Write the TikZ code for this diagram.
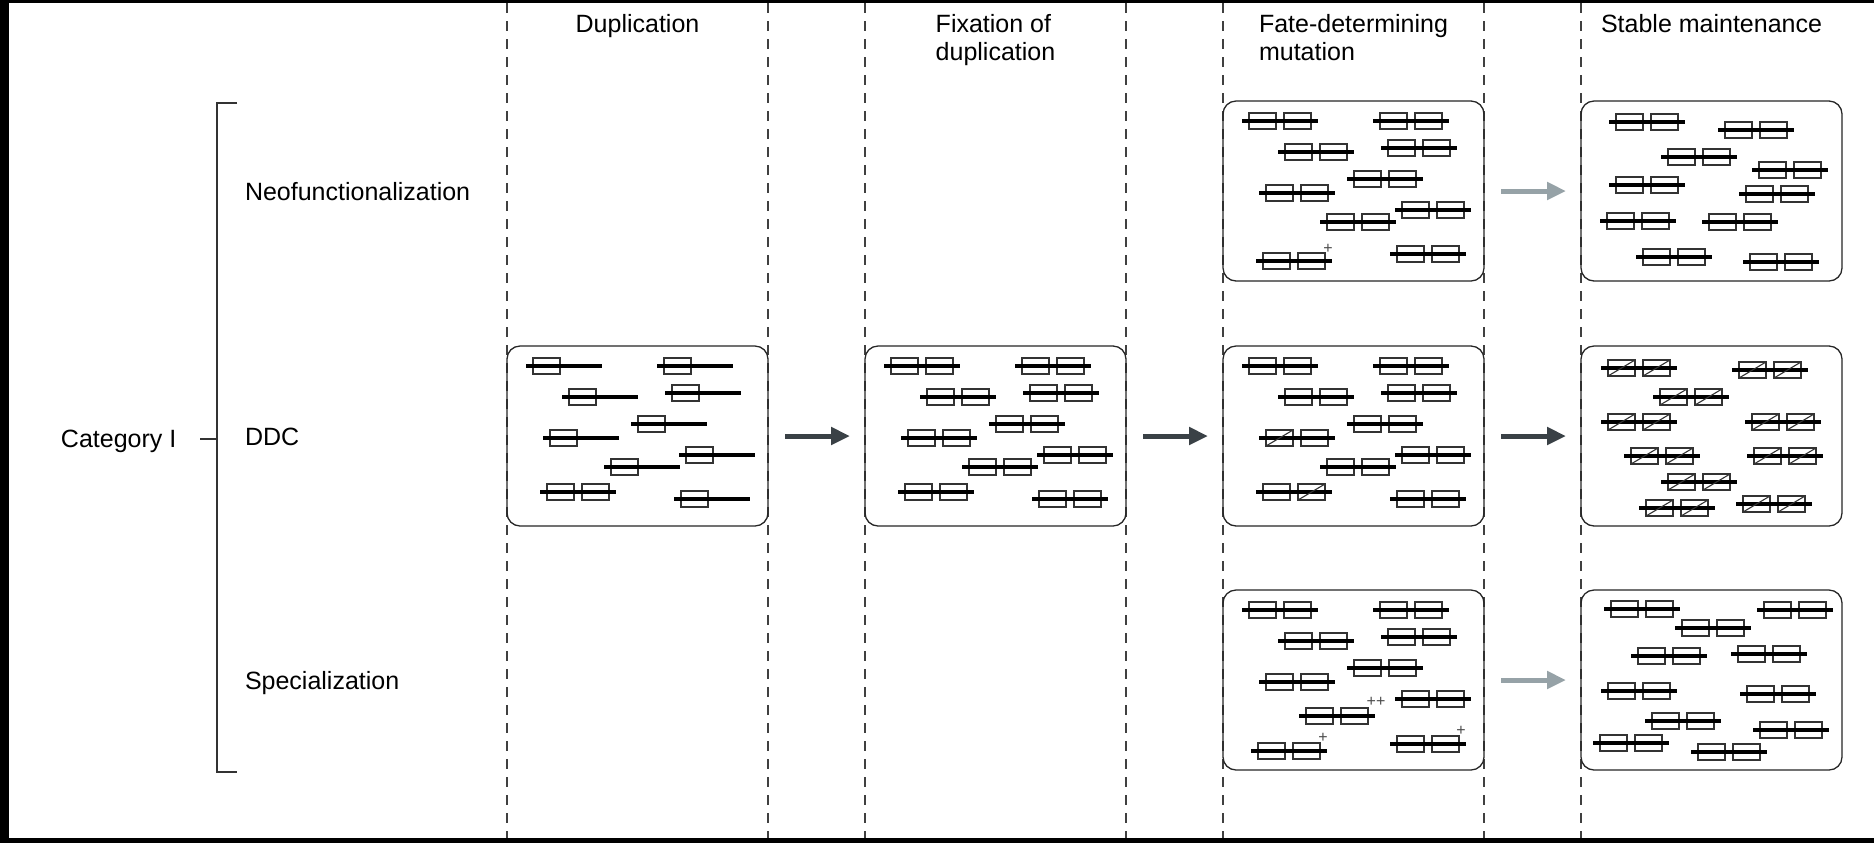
\documentclass[tikz,border=0pt]{standalone}
\usepackage{fontspec}
\setmainfont{Liberation Sans}
\usetikzlibrary{positioning,arrows.meta}

\definecolor{arrowdark}{RGB}{58,65,70}
\definecolor{arrowlight}{RGB}{150,162,167}

\tikzset{
  exon/.style={draw=black!80,line width=0.55pt},
  chrom/.style={line width=1.55pt,black},
  pics/gsingle/.style={code={
    \draw[exon] (7,-8) rectangle (34,8);
    \draw[chrom] (0,0) -- (76,0);
  }},
  pics/gpair/.style={code={
    \draw[exon] (7,-8) rectangle (34,8) (42,-8) rectangle (69,8);
    \draw[chrom] (0,0) -- (76,0);
  }},
  pics/gcutA/.style={code={\pic{gpair}; \draw[exon] (7,8) -- (34,-8);}},
  pics/gcutB/.style={code={\pic{gpair}; \draw[exon] (42,8) -- (69,-8);}},
  pics/gcutAB/.style={code={\pic{gpair}; \draw[exon] (7,8) -- (34,-8) (42,8) -- (69,-8);}},
}

\begin{document}
\begin{tikzpicture}[x=0.5pt,y=-0.5pt,
  every node/.style={font=\fontsize{12.5}{14}\selectfont,inner sep=0pt,outer sep=0pt},
  panel/.style={draw=black!85,line width=0.65pt,rounded corners=6.5pt,
    minimum width=130.5pt,minimum height=90pt},
  column/.style={black!75,line width=0.6pt,dash pattern=on 5pt off 4pt},
  bracket/.style={black!80,line width=0.6pt},
  flow/.style={line width=2.5pt,-{Triangle[length=9.5pt,width=8.5pt]},
    shorten <=8.5pt,shorten >=7.5pt},
  plusmark/.style={font=\fontsize{8}{8}\selectfont,text=black!70},
  heading/.style={anchor=north,align=left}]

\useasboundingbox (0,0) rectangle (1874,843);
\fill[black] (0,0) rectangle (1874,843);
\fill[white] (9,3) rectangle (1874,838);

\foreach \cx in {507,768,865,1126,1223,1484,1581}
  \draw[column] (\cx,3) -- (\cx,838);

\node[heading] (hdup) at (637.5,14) {Duplication};
\node[heading] (hfix) at (995.5,14) {Fixation of\\duplication};
\node[heading] (hfate) at (1353.5,14) {Fate-determining\\mutation};
\node[heading] (hstab) at (1711.5,14) {Stable maintenance};

\node[anchor=base west] (neo) at (245,200) {Neofunctionalization};
\node[anchor=base west] (ddc) at (245,445) {DDC};
\node[anchor=base west] (spec) at (245,689) {Specialization};
\node[anchor=base west] (cat) at (61,447) {Category I};

\coordinate (brT) at (217,103);
\coordinate (brB) at (217,772);
\coordinate (brM) at (217,439);
\coordinate (catend) at (200,439);
\draw[bracket] ([xshift=10pt]brT) -- (brT) -- (brB) -- ([xshift=10pt]brB);
\draw[bracket] (catend) -- (brM);

\node[panel] (dup) at (637.5,436) {};
\node[panel] (fix) at (995.5,436) {};
\node[panel] (fateN) at (1353.5,191) {};
\node[panel] (fateD) at (1353.5,436) {};
\node[panel] (fateS) at (1353.5,680) {};
\node[panel] (stabN) at (1711.5,191) {};
\node[panel] (stabD) at (1711.5,436) {};
\node[panel] (stabS) at (1711.5,680) {};

\foreach \gx/\gy in {19/20,55/51,150/20,158/47,124/78,36/92,172/109,97/121,167/153}
  \pic at ([shift={(\gx,\gy)}]dup.north west) {gsingle};
\pic at ([shift={(33,146)}]dup.north west) {gpair};

\foreach \gx/\gy in {19/20,55/51,150/20,158/47,124/78,36/92,172/109,97/121,33/146,167/153}
  \pic at ([shift={(\gx,\gy)}]fix.north west) {gpair};

\foreach \gx/\gy in {19/20,55/51,150/20,158/47,124/78,172/109,97/121,167/153}
  \pic at ([shift={(\gx,\gy)}]fateD.north west) {gpair};
\pic at ([shift={(36,92)}]fateD.north west) {gcutA};
\pic at ([shift={(33,146)}]fateD.north west) {gcutB};

\foreach \gx/\gy in {19/20,55/51,150/20,158/47,124/78,36/92,172/109,97/121,33/160,167/153}
  \pic at ([shift={(\gx,\gy)}]fateN.north west) {gpair};
\node[plusmark] (mutN) at ([shift={(105,148)}]fateN.north west) {+};

\foreach \gx/\gy in {19/20,55/51,150/20,158/47,124/78,36/92,172/109,76/126,28/161,167/154}
  \pic at ([shift={(\gx,\gy)}]fateS.north west) {gpair};
\node[plusmark] (mutSa) at ([shift={(153,112)}]fateS.north west) {++};
\node[plusmark] (mutSb) at ([shift={(100,148)}]fateS.north west) {+};
\node[plusmark] (mutSc) at ([shift={(238,141)}]fateS.north west) {+};

\foreach \gx/\gy in {28/21,137/29,80/56,171/69,28/84,158/93,19/120,121/121,55/156,162/161}
  \pic at ([shift={(\gx,\gy)}]stabN.north west) {gpair};

\foreach \gx/\gy in {20/22,151/24,72/51,20/76,164/76,43/110,166/110,80/136,58/162,155/158}
  \pic at ([shift={(\gx,\gy)}]stabD.north west) {gcutAB};

\foreach \gx/\gy in {23/19,176/20,94/38,50/66,150/64,20/101,159/104,64/131,172/140,12/153,110/162}
  \pic at ([shift={(\gx,\gy)}]stabS.north west) {gpair};

\draw[flow,arrowdark] (dup) -- (fix);
\draw[flow,arrowdark] (fix) -- (fateD);
\draw[flow,arrowdark] (fateD) -- (stabD);
\draw[flow,arrowlight] (fateN) -- (stabN);
\draw[flow,arrowlight] (fateS) -- (stabS);
\end{tikzpicture}
\end{document}
